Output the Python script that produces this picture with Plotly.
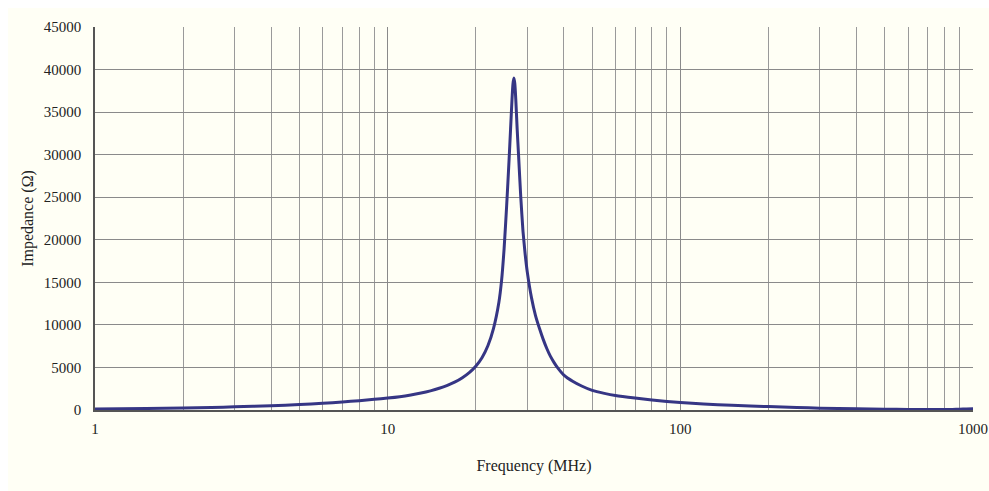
import plotly.graph_objects as go

freq_mhz = [1, 1.5, 2, 2.5, 3, 4, 5, 6, 7, 8, 9, 10, 11, 12, 13, 14, 15, 16, 17, 18, 19,
            20, 21, 22, 23, 24, 24.5, 25, 25.5, 26, 26.3, 26.6, 26.8, 27, 27.2, 27.4,
            27.7, 28, 28.5, 29, 29.5, 30, 31, 32, 33, 34, 35, 36, 37, 38, 40, 43, 46,
            50, 55, 60, 70, 80, 90, 100, 120, 150, 200, 250, 300, 400, 500, 600, 700,
            800, 850, 900, 950, 1000]
impedance = [115, 175, 240, 305, 370, 500, 640, 790, 940, 1100, 1260, 1400, 1560, 1760,
             1990, 2250, 2550, 2900, 3300, 3800, 4400, 5150, 6150, 7550, 9600, 12700,
             15200, 19000, 24000, 29500, 33000, 36500, 38300, 39000, 38300, 36500, 33000,
             30000, 25000, 21000, 18300, 16200, 13200, 11100, 9600, 8300, 7200, 6300,
             5600, 5000, 4100, 3350, 2820, 2300, 1950, 1700, 1400, 1180, 1010, 880, 710,
             550, 400, 300, 220, 140, 95, 70, 55, 45, 60, 100, 130, 140]

x_tick_vals = [1, 10, 100, 1000]
x_tick_text = ["1", "10", "100", "1000"]
x_minor_vals = [2, 3, 4, 5, 6, 7, 8, 9, 20, 30, 40, 50, 60, 70, 80, 90,
                200, 300, 400, 500, 600, 700, 800, 900]
y_tick_vals = [0, 5000, 10000, 15000, 20000, 25000, 30000, 35000, 40000, 45000]

BG = "#FFFFF5"
FONT = "Liberation Serif"

fig = go.Figure()
fig.add_trace(go.Scatter(
    x=freq_mhz, y=impedance, mode="lines",
    line=dict(color="#363684", width=3, shape="spline", smoothing=0.5),
    showlegend=False, hoverinfo="x+y",
))

fig.update_layout(
    width=981, height=483,
    margin=dict(l=87, r=16, t=19, b=81, autoexpand=False),
    paper_bgcolor=BG,
    plot_bgcolor=BG,
    font=dict(family=FONT, size=15, color="#222222"),
)

fig.update_xaxes(
    type="log", range=[0, 3], automargin=False,
    tickvals=x_tick_vals, ticktext=x_tick_text,
    showgrid=True, gridcolor="#8a8a8a", gridwidth=1,
    minor=dict(tickvals=x_minor_vals, showgrid=True, gridcolor="#9a9a9a", gridwidth=1, ticks=""),
    showline=True, linecolor="#555555", linewidth=1.5,
    ticks="", ticklen=0, ticklabelstandoff=4,
    title=dict(text="Frequency (MHz)", font=dict(family=FONT, size=16), standoff=24),
    zeroline=False,
)
fig.update_yaxes(
    range=[0, 45000], automargin=False,
    tickvals=y_tick_vals, ticktext=[str(v) for v in y_tick_vals],
    showgrid=True, gridcolor="#8a8a8a", gridwidth=1,
    showline=True, linecolor="#555555", linewidth=1.5,
    ticks="", ticklen=0, ticklabelstandoff=9,
    title=dict(text="Impedance (Ω)", font=dict(family=FONT, size=16), standoff=6),
    zeroline=False,
)

fig.write_html(
    "out.html",
    post_script=(
        "document.body.style.marginRight='0px';"
        "document.body.style.marginBottom='0px';"
        "document.body.style.overflow='hidden';"
        "document.documentElement.style.overflow='hidden';"
    ),
)
